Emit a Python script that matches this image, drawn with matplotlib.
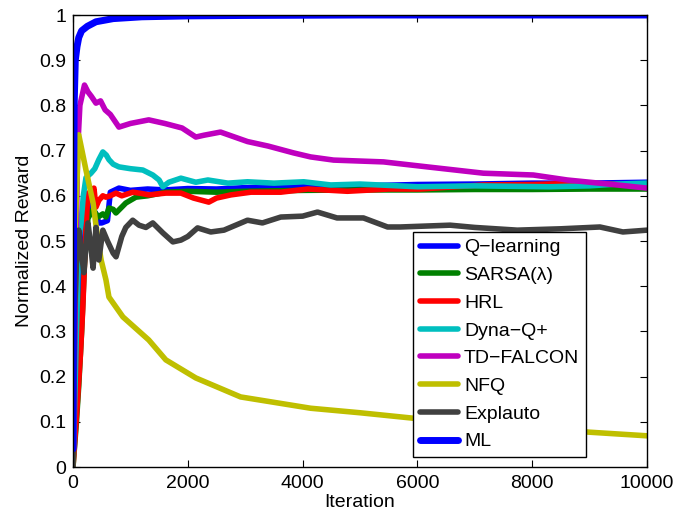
import matplotlib
matplotlib.use("Agg")
import matplotlib.pyplot as plt

plt.rcParams['font.family'] = ['Liberation Sans', 'DejaVu Sans']

# ---- data ----
ql_it = [0, 50, 100, 150, 200, 300, 400, 450, 500, 600, 650, 800, 1000, 1300, 1600, 2000, 2500, 3000, 4000, 5000, 6000, 7000, 8000, 9000, 10000]
ql_v = [0, 0.25, 0.4, 0.5, 0.55, 0.58, 0.56, 0.54, 0.54, 0.545, 0.608, 0.617, 0.612, 0.615, 0.613, 0.616, 0.615, 0.618, 0.62, 0.622, 0.625, 0.626, 0.628, 0.628, 0.63]

sarsa_it = [0, 60, 100, 150, 200, 260, 350, 435, 520, 574, 626, 700, 748, 850, 920, 1000, 1095, 1300, 1617, 2000, 2500, 3000, 4000, 5000, 6000, 7000, 8000, 9000, 10000]
sarsa_v = [0, 0.1, 0.18, 0.3, 0.45, 0.55, 0.57, 0.553, 0.56, 0.553, 0.573, 0.57, 0.562, 0.575, 0.584, 0.59, 0.597, 0.6, 0.608, 0.61, 0.608, 0.61, 0.612, 0.613, 0.613, 0.614, 0.614, 0.615, 0.615]

hrl_it = [0, 80, 130, 170, 200, 226, 260, 300, 365, 400, 450, 520, 574, 650, 748, 850, 1043, 1200, 1320, 1617, 1880, 2100, 2365, 2500, 2750, 3100, 3620, 4090, 4780, 5500, 6050, 7150, 8000, 8890, 9500, 10000]
hrl_v = [0, 0.15, 0.25, 0.35, 0.45, 0.53, 0.606, 0.6, 0.617, 0.575, 0.59, 0.6, 0.597, 0.6, 0.606, 0.6, 0.608, 0.605, 0.602, 0.606, 0.606, 0.595, 0.586, 0.595, 0.602, 0.608, 0.608, 0.615, 0.61, 0.615, 0.615, 0.624, 0.625, 0.628, 0.625, 0.62]

dyna_it = [0, 60, 100, 140, 180, 226, 313, 380, 450, 520, 580, 626, 700, 800, 1000, 1217, 1390, 1500, 1565, 1670, 1880, 2140, 2350, 2700, 3040, 3500, 4020, 4490, 5000, 6000, 7000, 8300, 9000, 9480, 10000]
dyna_v = [0, 0.3, 0.5, 0.54, 0.6, 0.64, 0.65, 0.66, 0.68, 0.697, 0.69, 0.68, 0.67, 0.664, 0.66, 0.657, 0.646, 0.635, 0.62, 0.63, 0.639, 0.63, 0.635, 0.628, 0.631, 0.628, 0.631, 0.624, 0.626, 0.62, 0.622, 0.62, 0.622, 0.626, 0.628]

tdf_it = [0, 50, 80, 120, 200, 260, 320, 400, 480, 560, 650, 800, 1000, 1320, 1600, 1900, 2140, 2280, 2570, 3040, 3400, 3840, 4140, 4540, 5410, 6170, 7150, 8020, 8610, 9480, 10000]
tdf_v = [0, 0.45, 0.7, 0.8, 0.845, 0.83, 0.82, 0.805, 0.81, 0.79, 0.78, 0.752, 0.76, 0.768, 0.76, 0.75, 0.73, 0.734, 0.741, 0.72, 0.71, 0.695, 0.686, 0.679, 0.675, 0.664, 0.65, 0.646, 0.635, 0.624, 0.617]

nfq_it = [0, 30, 100, 226, 350, 435, 490, 574, 626, 870, 1320, 1617, 2140, 2920, 4140, 5000, 6000, 7000, 8000, 9000, 10000]
nfq_v = [0, 0.5, 0.735, 0.657, 0.584, 0.502, 0.458, 0.414, 0.376, 0.332, 0.281, 0.237, 0.197, 0.155, 0.13, 0.12, 0.107, 0.095, 0.087, 0.077, 0.069]

expl_it = [0, 30, 60, 100, 140, 190, 230, 260, 300, 350, 400, 450, 520, 600, 700, 750, 850, 920, 1040, 1150, 1270, 1390, 1565, 1740, 1880, 2000, 2170, 2400, 2630, 3040, 3300, 3620, 4000, 4260, 4600, 5060, 5480, 5700, 6570, 7000, 7740, 8500, 9180, 9580, 10000]
expl_v = [0, 0.35, 0.45, 0.524, 0.48, 0.43, 0.5, 0.54, 0.5, 0.44, 0.53, 0.458, 0.524, 0.5, 0.473, 0.465, 0.51, 0.53, 0.546, 0.535, 0.53, 0.54, 0.518, 0.498, 0.502, 0.51, 0.529, 0.52, 0.524, 0.546, 0.54, 0.553, 0.555, 0.564, 0.551, 0.551, 0.531, 0.531, 0.535, 0.53, 0.524, 0.527, 0.531, 0.52, 0.524]

ml_it = [0, 10, 20, 40, 70, 100, 150, 250, 400, 700, 1200, 2000, 3000, 5000, 10000]
ml_v = [0.04, 0.55, 0.8, 0.9, 0.93, 0.95, 0.965, 0.975, 0.985, 0.992, 0.996, 0.998, 0.999, 1.0, 1.0]

labels = ['Q\u2212learning', 'SARSA(\u03bb)', 'HRL', 'Dyna\u2212Q+', 'TD\u2212FALCON', 'NFQ', 'Explauto', 'ML']
colors = ['#0000ff', '#008000', '#ff0000', '#00bfbf', '#bf00bf', '#bfbf00', '#404040', '#0000ff']
xticks = [0, 2000, 4000, 6000, 8000, 10000]
yticks = [0, 0.1, 0.2, 0.3, 0.4, 0.5, 0.6, 0.7, 0.8, 0.9, 1.0]
ytick_labels = ['0', '0.1', '0.2', '0.3', '0.4', '0.5', '0.6', '0.7', '0.8', '0.9', '1']

series = [(ql_it, ql_v), (sarsa_it, sarsa_v), (hrl_it, hrl_v), (dyna_it, dyna_v),
          (tdf_it, tdf_v), (nfq_it, nfq_v), (expl_it, expl_v), (ml_it, ml_v)]

fig = plt.figure(figsize=(6.9, 5.14), dpi=100)
ax = fig.add_axes([73/690, 1 - 467/514, (647 - 73)/690, (467 - 15)/514])

for (it, v), lab, c in zip(series, labels, colors):
    lw = 5 if lab == 'ML' else 4
    ax.plot(it, v, color=c, lw=lw, label=lab, solid_joinstyle='round', solid_capstyle='round')

ax.set_xlim(0, 10000)
ax.set_ylim(0, 1)
ax.set_xticks(xticks)
ax.set_xticklabels([str(t) for t in xticks])
ax.set_yticks(yticks)
ax.set_yticklabels(ytick_labels)
ax.tick_params(direction='in', top=True, right=True, length=5, width=0.8,
               labelsize=14)
ax.tick_params(axis='x', pad=6)
ax.tick_params(axis='y', pad=5)
for s in ax.spines.values():
    s.set_linewidth(1.0)

ax.set_xlabel('Iteration', fontsize=14, labelpad=1)
ax.set_ylabel('Normalized Reward', fontsize=14, labelpad=4)

leg = ax.legend(loc='upper left', bbox_to_anchor=(0.593, 0.52), fontsize=14,
                frameon=True, fancybox=False, framealpha=1, edgecolor='black',
                handlelength=1.95, handletextpad=0.3, labelspacing=0.52,
                borderpad=0.35, borderaxespad=0)
leg.get_frame().set_linewidth(1.0)

fig.savefig('out.png', dpi=100)
